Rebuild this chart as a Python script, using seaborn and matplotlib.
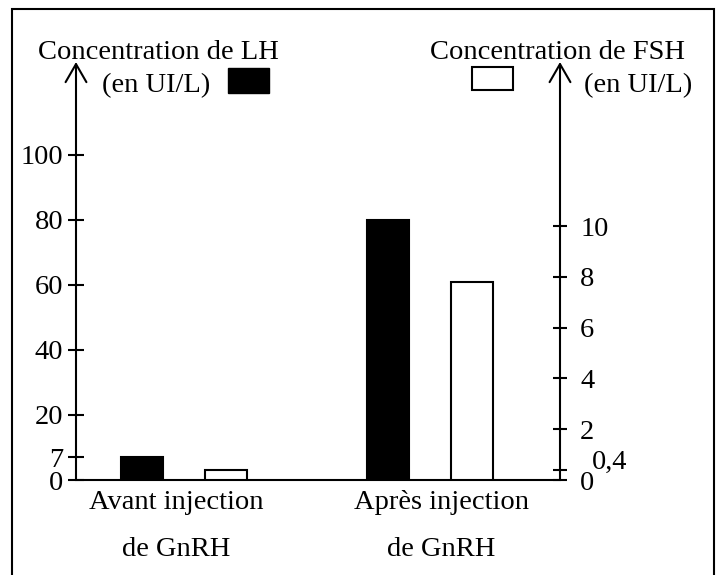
import numpy as np
import pandas as pd
import matplotlib
matplotlib.use('Agg')
import matplotlib.pyplot as plt
from matplotlib.patches import Rectangle
from matplotlib.transforms import ScaledTranslation
import seaborn as sns

sns.set_theme(style='ticks')
plt.rcParams['font.family'] = ['Liberation Serif', 'DejaVu Serif']
plt.rcParams['text.color'] = 'black'
plt.rcParams['xtick.color'] = 'black'
plt.rcParams['ytick.color'] = 'black'
plt.rcParams['axes.edgecolor'] = 'black'

# data
moments = ['Avant injection\nde GnRH', 'Après injection\nde GnRH']
lh_values = [7, 80]
fsh_values = [0.4, 7.8]
lh_ticks = [0, 7, 20, 40, 60, 80, 100]
fsh_ticks = [0, 0.4, 2, 4, 6, 8, 10]
fsh_labels = ['0', '0,4', '2', '4', '6', '8', '10']

df = pd.DataFrame({
    'moment': moments * 2,
    'hormone': ['LH'] * 2 + ['FSH'] * 2,
    'valeur': lh_values + fsh_values,
})

W, H = 720, 575
fs = 20.5
fig = plt.figure(figsize=(W / 100, H / 100), dpi=100)
ax = fig.add_axes([76 / W, 1 - 480 / H, (560 - 76) / W, (480 - 62) / H])
ax2 = ax.twinx()

pal = {'LH': 'black', 'FSH': 'white'}
common = dict(x='moment', y='valeur', hue='hormone', hue_order=['LH', 'FSH'],
              order=moments, palette=pal, width=0.68, gap=0.5, dodge=True,
              edgecolor='black', linewidth=1.5, errorbar=None, legend=False)
sns.barplot(data=df[df.hormone == 'LH'], ax=ax, **common)
sns.barplot(data=df[df.hormone == 'FSH'], ax=ax2, **common)

ax.set_xlim(-0.439, 1.528)
ax.set_ylim(0, 128.6)
ax2.set_ylim(0, 16.46)
ax.set_xlabel('')
ax.set_ylabel('')
ax2.set_ylabel('')

for s in ['top', 'right', 'left']:
    ax.spines[s].set_visible(False)
for s in ['top', 'right', 'left', 'bottom']:
    ax2.spines[s].set_visible(False)
ax.spines['bottom'].set_linewidth(1.5)

# axes as arrows
arrow = dict(arrowstyle='->,head_length=1.3,head_width=0.75', lw=1.5,
             color='black', shrinkA=0, shrinkB=0, mutation_scale=10)
ax.annotate('', xy=(0, 1), xytext=(0, 0), xycoords='axes fraction', arrowprops=arrow)
ax.annotate('', xy=(1, 1), xytext=(1, 0), xycoords='axes fraction', arrowprops=arrow)

ax.set_yticks(lh_ticks)
ax.set_yticklabels([str(t) for t in lh_ticks])
ax.tick_params(axis='y', direction='inout', length=11.5, width=1.5, labelsize=fs, pad=3.5)
ax2.set_yticks(fsh_ticks)
ax2.set_yticklabels(fsh_labels)
ax2.tick_params(axis='y', direction='inout', length=10, width=1.5, labelsize=fs, pad=9.5)

ax.set_xticks([0, 1])
ax.set_xticklabels(moments, linespacing=2.15)
ax.tick_params(axis='x', length=0, labelsize=fs, pad=7)
xl = ax.get_xticklabels()
xl[0].set_transform(xl[0].get_transform() + ScaledTranslation(-0.08, 0, fig.dpi_scale_trans))
xl[1].set_transform(xl[1].get_transform() + ScaledTranslation(0.11, 0, fig.dpi_scale_trans))
yl = ax2.get_yticklabels()
yl[1].set_transform(yl[1].get_transform() + ScaledTranslation(0.12, 0.10, fig.dpi_scale_trans))

# headers and legend boxes
fig.text(158 / W, 1 - 59 / H, 'Concentration de LH', ha='center', va='baseline', fontsize=fs)
fig.text(156 / W, 1 - 92 / H, '(en UI/L)', ha='center', va='baseline', fontsize=fs)
fig.text(557 / W, 1 - 59 / H, 'Concentration de FSH', ha='center', va='baseline', fontsize=fs)
fig.text(638 / W, 1 - 92 / H, '(en UI/L)', ha='center', va='baseline', fontsize=fs)
fig.patches.append(Rectangle((228 / W, 1 - 93 / H), 41 / W, 25 / H, facecolor='black',
                             edgecolor='black', transform=fig.transFigure))
fig.patches.append(Rectangle((472 / W, 1 - 90 / H), 41 / W, 23 / H, facecolor='white',
                             edgecolor='black', lw=1.5, transform=fig.transFigure))
fig.patches.append(Rectangle((12 / W, -0.05), (714 - 12) / W, 1 - 9 / H + 0.05, fill=False,
                             edgecolor='black', lw=1.5, transform=fig.transFigure, clip_on=False))

fig.savefig('out.png', dpi=100)
